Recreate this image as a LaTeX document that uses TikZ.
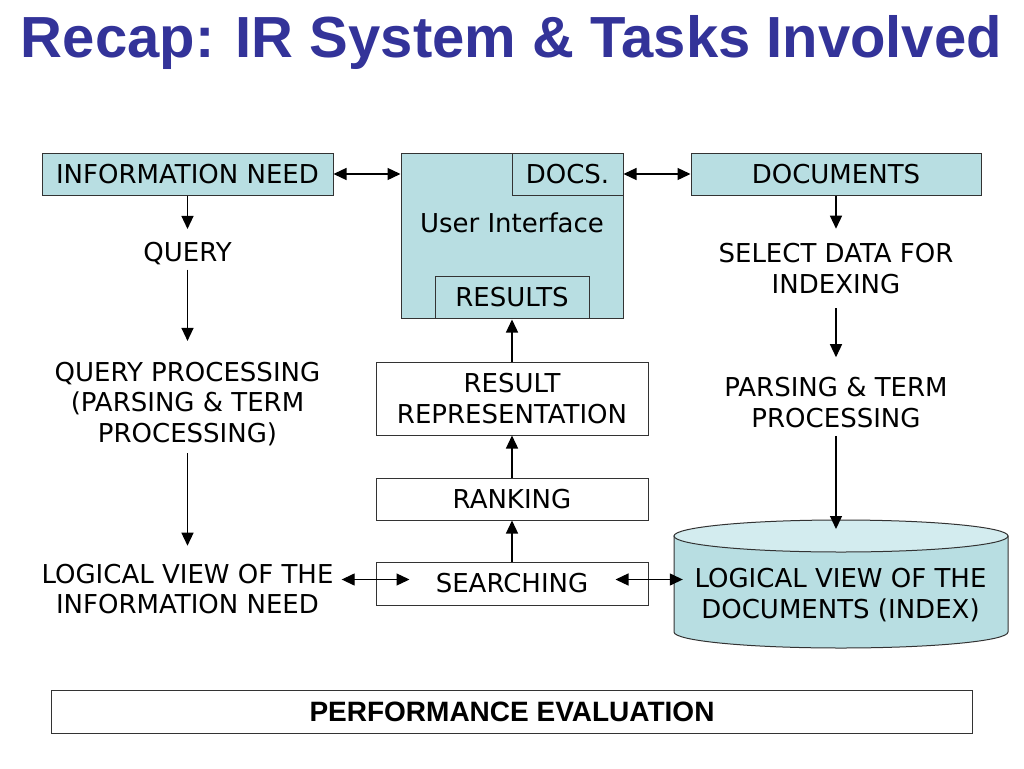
\documentclass[tikz,border=0pt]{standalone}
\usepackage{fontspec}
\setmainfont{DejaVu Sans}
\newfontfamily\titlefont{Liberation Sans}
\usetikzlibrary{arrows.meta}
\definecolor{boxfill}{HTML}{B8DEE2}
\definecolor{cyltop}{HTML}{D3ECEF}
\definecolor{titleblue}{HTML}{333399}
\definecolor{edge}{HTML}{333333}
\begin{document}
\begin{tikzpicture}[x=1pt,y=-1pt,
  every node/.style={font=\fontsize{26}{30.5}\selectfont, inner sep=0pt},
  cbox/.style={draw=edge, line width=1pt, fill=boxfill, minimum height=42pt},
  wbox/.style={draw=edge, line width=1pt, fill=white, minimum height=42pt},
  lbl/.style={align=center},
  arr/.style={line width=1.3pt, -{Triangle[length=13pt,width=12pt]}},
  dbl/.style={line width=1.3pt, {Triangle[length=13pt,width=12pt]}-{Triangle[length=13pt,width=12pt]}}
]
\useasboundingbox (0,0) rectangle (1024,768);
\fill[white] (0,0) rectangle (1024,768);

% title
\node[anchor=base, font=\titlefont\bfseries\fontsize{58}{60}\selectfont, text=titleblue] (title) at (511.5,57.5) {Recap: IR System \& Tasks Involved};

% top row boxes
\node[cbox, minimum width=291pt] (infoneed) at (187.5,174) {INFORMATION NEED};
\node[cbox, minimum width=222pt, minimum height=165pt] (ui) at (512,235.5) {};
\node[cbox, minimum width=111pt] (docs) at (567.5,174) {DOCS.};
\node[cbox, minimum width=154pt] (results) at (512,297) {RESULTS};
\node (uitext) at (512,223) {User Interface};
\node[cbox, minimum width=290pt] (documents) at (836,174) {DOCUMENTS};

% left column
\node[lbl] (query) at (187.5,253.5) {QUERY};
\node[lbl] (qproc) at (187.5,404) {QUERY PROCESSING\\(PARSING \& TERM\\PROCESSING)};
\node[lbl] (logq) at (187.5,589) {LOGICAL VIEW OF THE\\INFORMATION NEED};

% middle column
\node[wbox, minimum width=272pt, minimum height=73pt, align=center] (resrep) at (512,398.5) {RESULT\\REPRESENTATION};
\node[wbox, minimum width=272pt] (ranking) at (512,499) {RANKING};
\node[wbox, minimum width=272pt, minimum height=43pt] (searching) at (512,583.5) {SEARCHING};

% right column
\node[lbl] (seldata) at (836,268.5) {SELECT DATA FOR\\INDEXING};
\node[lbl] (parsing) at (836,402.5) {PARSING \& TERM\\PROCESSING};

% cylinder (index)
\filldraw[fill=boxfill, draw=edge, line width=1pt] (674,536) -- (674,632)
  arc[start angle=180, end angle=360, x radius=167pt, y radius=16pt] -- (1008,536) -- cycle;
\filldraw[fill=cyltop, draw=edge, line width=1pt] (841,536) ellipse[x radius=167pt, y radius=16pt];
\node[minimum width=334pt, minimum height=128pt] (index) at (841,584) {};
\node[lbl] (indextext) at (840.5,595) {LOGICAL VIEW OF THE\\DOCUMENTS (INDEX)};
\coordinate (idxtop) at (836,529);

% performance evaluation
\node[draw=edge, line width=1pt, minimum width=921pt, minimum height=43pt] (perf) at (511.5,711.5) {};
\node[anchor=base, font=\titlefont\bfseries\fontsize{28}{30}\selectfont] (perftext) at (512,721) {PERFORMANCE EVALUATION};

% connectors
\draw[dbl] (infoneed.east) -- (infoneed.east -| ui.west);
\draw[dbl] (docs.east) -- (docs.east -| documents.west);

\draw[arr, shorten >=13pt] (infoneed.south) -- (query.north);
\draw[arr, shorten <=4.5pt, shorten >=21pt] (query.south) -- (qproc.north);
\draw[arr, shorten <=7pt, shorten >=18pt] (qproc.south) -- (logq.north);

\draw[arr, shorten >=14.5pt] (documents.south) -- (seldata.north);
\draw[arr, shorten <=14.5pt, shorten >=20pt] (seldata.south) -- (parsing.north);
\draw[arr, shorten <=8pt] (parsing.south) -- (idxtop);

\draw[arr] (searching.north) -- (ranking.south);
\draw[arr] (ranking.north) -- (resrep.south);
\draw[arr, shorten >=1pt] (resrep.north) -- (results.south);

\draw[dbl] ([xshift=8pt,yshift=4pt]logq.east |- searching.west) -- ([xshift=34pt,yshift=4pt]searching.west);
\draw[dbl] ([xshift=-33pt,yshift=4pt]searching.east) -- ([xshift=9pt,yshift=4pt]index.west |- searching.east);
\end{tikzpicture}
\end{document}
